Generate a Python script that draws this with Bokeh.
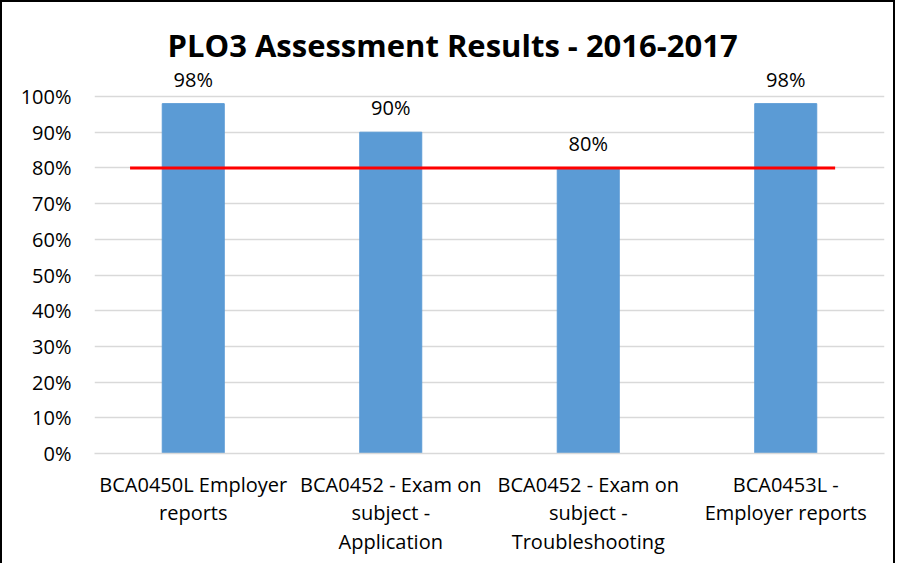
from bokeh.plotting import figure
from bokeh.models import Range1d, FixedTicker, PrintfTickFormatter, Title, ColumnDataSource, LabelSet
from bokeh.core.properties import value
from bokeh.embed import file_html
from bokeh.resources import INLINE

# ---- data ----
categories = [
    "BCA0450L Employer\nreports",
    "BCA0452 - Exam on\nsubject -\nApplication",
    "BCA0452 - Exam on\nsubject -\nTroubleshooting",
    "BCA0453L -\nEmployer reports",
]
scores = [98, 90, 80, 98]
target = 80
target_span = [0.18, 3.75]          # extent of the target line along the category axis
y_ticks = [0, 10, 20, 30, 40, 50, 60, 70, 80, 90, 100]
title_text = "PLO3 Assessment Results - 2016-2017"

FONT = "Open Sans"
x_pos = [i + 0.5 for i in range(len(categories))]

# frame is taller than the 0-100 axis so the value labels above the bars are not clipped
FRAME_H = 384
Y_END = 100 * FRAME_H / 357

p = figure(width=895, height=563, output_backend="svg", toolbar_location=None,
           x_range=Range1d(0, len(categories)), y_range=Range1d(0, Y_END),
           min_border_left=92, min_border_right=13, min_border_top=67, min_border_bottom=112)
p.styles = {"border-left": "2px solid black", "border-top": "2px solid black",
            "border-right": "2px solid black"}
p.outline_line_color = None
p.background_fill_color = "white"
p.border_fill_color = "white"

src = ColumnDataSource(dict(x=x_pos, top=scores, label=[f"{v}%" for v in scores]))
p.vbar(x="x", top="top", bottom=0, width=0.314, color="#5b9bd5", source=src)
labels = LabelSet(x="x", y="top", text="label", source=src, text_font=value(FONT),
                  text_font_size="20px", text_align="center", text_baseline="alphabetic",
                  y_offset=17, text_color="black")
p.add_layout(labels)
p.line(x=target_span, y=[target, target], line_color="#ff0000", line_width=3)

# axes
p.xaxis.ticker = FixedTicker(ticks=x_pos)
p.xaxis.major_label_overrides = {x: c for x, c in zip(x_pos, categories)}
p.xaxis.major_label_text_font = FONT
p.xaxis.major_label_text_font_size = "20px"
p.xaxis.major_label_text_color = "black"
p.xaxis.major_label_text_line_height = 1.07
p.xaxis.major_tick_line_color = None
p.xaxis.minor_tick_line_color = None
p.xaxis.major_tick_out = 0
p.xaxis.major_label_standoff = 17
p.xaxis.axis_line_color = "#d9d9d9"
p.xaxis.axis_line_width = 1.5

p.yaxis.ticker = FixedTicker(ticks=y_ticks)
p.yaxis.formatter = PrintfTickFormatter(format="%d%%")
p.yaxis.major_label_text_font = FONT
p.yaxis.major_label_text_font_size = "20px"
p.yaxis.major_label_text_color = "black"
p.yaxis.major_tick_line_color = None
p.yaxis.minor_tick_line_color = None
p.yaxis.major_tick_out = 0
p.yaxis.major_label_standoff = 23
p.yaxis.axis_line_color = None

p.xgrid.grid_line_color = None
p.ygrid.grid_line_color = "#d9d9d9"
p.ygrid.grid_line_width = 1.5

t = Title(text=title_text, text_font=FONT, text_font_size="31px", text_font_style="bold",
          text_color="black", align="left", offset=73, standoff=8)
p.add_layout(t, "above")

open("out.html", "w").write(file_html(p, INLINE))
